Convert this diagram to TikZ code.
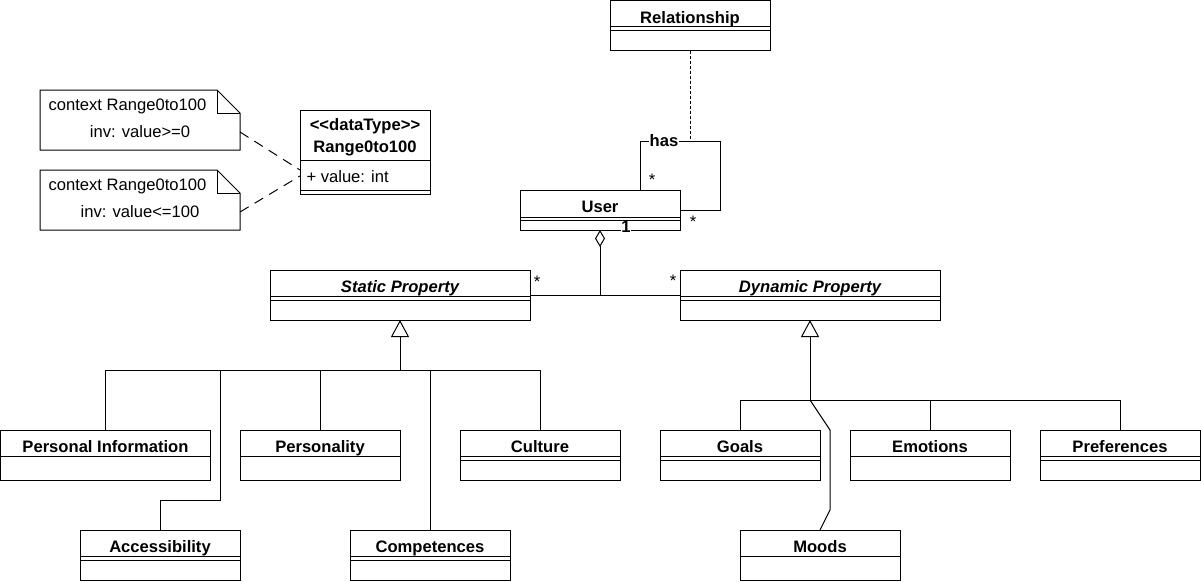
\documentclass[tikz,border=0pt]{standalone}
\usepackage{fontspec}
\setmainfont{Liberation Sans}
\usetikzlibrary{arrows.meta,positioning}

\begin{document}
\begin{tikzpicture}[x=1pt,y=-1pt,line width=1pt,
  font=\fontsize{16.6pt}{19pt}\selectfont,
  cls/.style 2 args={draw, fill=white, inner sep=0pt, outer sep=0pt,
    anchor=north west, minimum width=#1, minimum height=#2},
  title/.style={anchor=base, yshift=-22.5pt, inner sep=0pt,
    font=\fontsize{16.6pt}{19pt}\selectfont\bfseries},
  atitle/.style={title, font=\fontsize{16.6pt}{19pt}\selectfont\bfseries\itshape},
  notebox/.style={inner sep=0pt, outer sep=0pt, anchor=north west,
    minimum width=200pt, minimum height=60pt},
  txt/.style={anchor=base, inner sep=0pt},
  mult/.style={anchor=base, inner sep=0.5pt},
  gen/.style={-{Triangle[open,length=17pt,width=18pt]}},
  agg/.style={-{Diamond[open,length=17pt,width=10pt]}},
  notelink/.style={dash pattern=on 10pt off 7pt},
  assoclink/.style={dash pattern=on 3pt off 2pt}]

  \useasboundingbox (0,0) rectangle (1201,581);

  % classes
  \node[cls={160pt}{50pt}, label={[title]north:Relationship}] (relationship) at (610,0.5) {};
  \node[cls={130pt}{84pt}] (range) at (300,110) {};
  \node[cls={160pt}{40pt}, label={[title]north:User}] (user) at (520,190) {};
  \node[cls={260pt}{50pt}, label={[atitle]north:Static Property}] (static) at (270,270) {};
  \node[cls={260pt}{50pt}, label={[atitle]north:Dynamic Property}] (dynamic) at (680,270) {};

  \node[cls={210pt}{50pt}, label={[title]north:Personal Information}] (persinfo) at (0.5,430) {};
  \node[cls={160pt}{50pt}, label={[title]north:Personality}] (personality) at (240,430) {};
  \node[cls={160pt}{50pt}, label={[title]north:Culture}] (culture) at (460,430) {};
  \node[cls={160pt}{50pt}, label={[title]north:Accessibility}] (access) at (80,530) {};
  \node[cls={160pt}{50pt}, label={[title]north:Competences}] (compet) at (350,530) {};

  \node[cls={160pt}{50pt}, label={[title]north:Goals}] (goals) at (660,430) {};
  \node[cls={160pt}{50pt}, label={[title]north:Emotions}] (emotions) at (850,430) {};
  \node[cls={160pt}{50pt}, label={[title]north:Preferences}] (prefs) at (1040,430) {};
  \node[cls={160pt}{50pt}, label={[title]north:Moods}] (moods) at (740,530) {};

  % compartments
  \draw ([yshift=-26pt]relationship.north west) -- ([yshift=-26pt]relationship.north east);
  \draw ([yshift=-30pt]relationship.north west) -- ([yshift=-30pt]relationship.north east);
  \draw ([yshift=-50pt]range.north west) -- ([yshift=-50pt]range.north east);
  \draw ([yshift=-80pt]range.north west) -- ([yshift=-80pt]range.north east);
  \draw ([yshift=-27pt]user.north west) -- ([yshift=-27pt]user.north east);
  \draw ([yshift=-30pt]user.north west) -- ([yshift=-30pt]user.north east);
  \draw ([yshift=-26pt]static.north west) -- ([yshift=-26pt]static.north east);
  \draw ([yshift=-30pt]static.north west) -- ([yshift=-30pt]static.north east);
  \draw ([yshift=-26pt]dynamic.north west) -- ([yshift=-26pt]dynamic.north east);
  \draw ([yshift=-30pt]dynamic.north west) -- ([yshift=-30pt]dynamic.north east);
  \draw ([yshift=-26pt]persinfo.north west) -- ([yshift=-26pt]persinfo.north east);
  \draw ([yshift=-26pt]personality.north west) -- ([yshift=-26pt]personality.north east);
  \draw ([yshift=-26pt]culture.north west) -- ([yshift=-26pt]culture.north east);
  \draw ([yshift=-30pt]culture.north west) -- ([yshift=-30pt]culture.north east);
  \draw ([yshift=-26pt]access.north west) -- ([yshift=-26pt]access.north east);
  \draw ([yshift=-30pt]access.north west) -- ([yshift=-30pt]access.north east);
  \draw ([yshift=-26pt]compet.north west) -- ([yshift=-26pt]compet.north east);
  \draw ([yshift=-30pt]compet.north west) -- ([yshift=-30pt]compet.north east);
  \draw ([yshift=-26pt]goals.north west) -- ([yshift=-26pt]goals.north east);
  \draw ([yshift=-30pt]goals.north west) -- ([yshift=-30pt]goals.north east);
  \draw ([yshift=-26pt]emotions.north west) -- ([yshift=-26pt]emotions.north east);
  \draw ([yshift=-26pt]prefs.north west) -- ([yshift=-26pt]prefs.north east);
  \draw ([yshift=-30pt]prefs.north west) -- ([yshift=-30pt]prefs.north east);
  \draw ([yshift=-26pt]moods.north west) -- ([yshift=-26pt]moods.north east);

  % data type
  \node[txt, font=\fontsize{16.6pt}{19pt}\selectfont\bfseries] (range-st) at (365,130.5) {\mbox{<}\mbox{<}dataType\mbox{>}\mbox{>}};
  \node[txt, font=\fontsize{16.6pt}{19pt}\selectfont\bfseries] (range-t) at (365,152) {Range0to100};
  \node[txt, anchor=base west] (range-v) at (306,182) {+ value: int};

  % notes
  \node[notebox] (note1) at (40,90) {};
  \node[notebox] (note2) at (40,170) {};
  \draw (note1.north west) -- ([xshift=-23pt]note1.north east) -- ([yshift=-23pt]note1.north east)
    -- (note1.south east) -- (note1.south west) -- cycle;
  \draw ([xshift=-23pt]note1.north east) -- ([xshift=-23pt,yshift=-23pt]note1.north east)
    -- ([yshift=-23pt]note1.north east);
  \draw (note2.north west) -- ([xshift=-23pt]note2.north east) -- ([yshift=-23pt]note2.north east)
    -- (note2.south east) -- (note2.south west) -- cycle;
  \draw ([xshift=-23pt]note2.north east) -- ([xshift=-23pt,yshift=-23pt]note2.north east)
    -- ([yshift=-23pt]note2.north east);
  \node[txt, anchor=base west] (note1-c) at (48,110) {context Range0to100};
  \node[txt] (note1-i) at (140,137) {inv: value\mbox{>}=0};
  \node[txt, anchor=base west] (note2-c) at (48,190) {context Range0to100};
  \node[txt] (note2-i) at (140,217) {inv: value\mbox{<}=100};

  \draw[notelink] ([yshift=-12pt]note1.east) -- ([yshift=-18pt]range.west);
  \draw[notelink] ([yshift=-12pt]note2.east) -- ([yshift=-24pt]range.west);

  % self association
  \coordinate (selfa) at (720,141);
  \coordinate (hasmid) at (690,141);
  \draw ([xshift=40pt]user.north) |- (selfa) |- (user.east);
  \draw[assoclink] (relationship.south) -- (hasmid);
  \node[mult, fill=white, font=\fontsize{16.6pt}{19pt}\selectfont\bfseries] (has) at (664,146) {has};
  \node[mult] (m-self1) at (652,185) {*};
  \node[mult] (m-self2) at (693,227) {*};

  % aggregation
  \coordinate (aggj) at (600,295);
  \draw[agg] (aggj) -- (user.south);
  \draw (static.east) -- (dynamic.west);
  \node[mult] (m-static) at (537,287) {*};
  \node[mult] (m-dyn) at (673,286) {*};
  \node[mult, fill=white, font=\fontsize{16.6pt}{19pt}\selectfont\bfseries] (m-user) at (626,232.5) {1};

  % static generalization
  \coordinate (sj) at (400,370);
  \coordinate (accj) at (220,500);
  \draw[gen] (sj) -- (static.south);
  \draw (persinfo.north) |- (sj);
  \draw (personality.north) |- (sj);
  \draw (culture.north) |- (sj);
  \draw (compet.north) |- (sj);
  \draw (access.north) |- (accj) |- (sj);

  % dynamic generalization
  \coordinate (dj) at (810,400);
  \coordinate (md1) at (830,510);
  \coordinate (md2) at (830,430);
  \draw[gen] (dj) -- (dynamic.south);
  \draw (goals.north) |- (dj);
  \draw (emotions.north) |- (dj);
  \draw (prefs.north) |- (dj);
  \draw (moods.north) -- (md1) -- (md2) -- (dj);
\end{tikzpicture}
\end{document}
